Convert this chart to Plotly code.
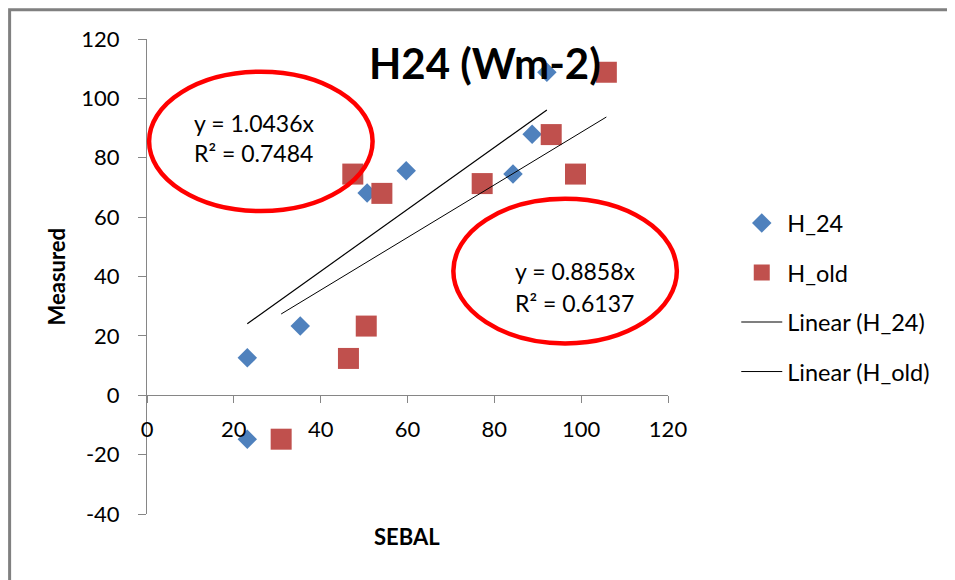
import plotly.graph_objects as go

# ---- data ----
h24_sebal = [23.1, 23.1, 35.3, 50.7, 59.7, 84.3, 88.7, 92.1]
h24_measured = [-14.8, 12.6, 23.3, 68.1, 75.6, 74.5, 87.9, 108.8]

hold_sebal = [30.9, 46.4, 50.5, 47.4, 54.1, 77.2, 93.1, 98.7, 105.8]
hold_measured = [-14.8, 12.4, 23.3, 74.5, 68.0, 71.3, 87.8, 74.5, 108.8]

slope_h24 = 1.0436
r2_h24 = 0.7484
slope_hold = 0.8858
r2_hold = 0.6137

x_ticks = [0, 20, 40, 60, 80, 100, 120]
x_tick_labels = ["0", "20", "40", "60", "80", "100", "120"]
y_ticks = [-40, -20, 0, 20, 40, 60, 80, 100, 120]
y_tick_labels = ["-40", "-20", "0", "20", "40", "60", "80", "100", "120"]

FONT = "Lato"
BLUE = "#4F81BD"
RED = "#C0504D"
AXIS = "#868686"

def trend_x(xs):
    return [min(xs), max(xs)]

fig = go.Figure()
fig.add_trace(go.Scatter(
    x=h24_sebal, y=h24_measured, mode="markers", name="H_24",
    marker=dict(symbol="diamond", size=15, color=BLUE),
    legendgroup="a"))
fig.add_trace(go.Scatter(
    x=hold_sebal, y=hold_measured, mode="markers", name="H_old",
    marker=dict(symbol="square", size=21, color=RED),
    legendgroup="b"))
tx = trend_x(h24_sebal)
fig.add_trace(go.Scatter(
    x=tx, y=[slope_h24 * v for v in tx], mode="lines", name="Linear (H_24)",
    line=dict(color="#000000", width=1.2), legendgroup="c"))
tx2 = trend_x(hold_sebal)
fig.add_trace(go.Scatter(
    x=tx2, y=[slope_hold * v for v in tx2], mode="lines", name="Linear (H_old)",
    line=dict(color="#000000", width=1), legendgroup="d"))

# the page body adds an 8px offset, so the figure is 8px smaller
fig.update_layout(
    width=947, height=572,
    margin=dict(l=139, r=286.5, t=31.3, b=65.7),
    paper_bgcolor="white", plot_bgcolor="white",
    font=dict(family=FONT, size=22, color="#000000"),
    showlegend=True,
    legend=dict(x=1.131, y=0.6587, xanchor="left", yanchor="top",
                font=dict(family=FONT, size=23.5, color="#000000"),
                itemwidth=41, tracegroupgap=16, bgcolor="rgba(0,0,0,0)"),
    xaxis=dict(range=[0, 120], tickvals=x_ticks, ticktext=x_tick_labels,
               showgrid=False, zeroline=False,
               showline=True, linecolor=AXIS, linewidth=1,
               ticks="outside", ticklen=7, tickcolor=AXIS,
               anchor="free", position=0.25, ticklabelstandoff=7,
               tickfont=dict(family=FONT, size=22, color="#000000")),
    yaxis=dict(range=[-40, 120], tickvals=y_ticks, ticktext=y_tick_labels,
               showgrid=False, zeroline=False,
               showline=True, linecolor=AXIS, linewidth=1,
               ticks="outside", ticklen=8, tickcolor=AXIS, ticklabelstandoff=14,
               tickfont=dict(family=FONT, size=22, color="#000000")),
)

shapes = [
    dict(type="rect", xref="paper", yref="paper", x0=-0.2637, x1=1.6, y0=-0.2, y1=1.0617,
         line=dict(color="#808080", width=3), fillcolor="rgba(0,0,0,0)", layer="above"),
    dict(type="circle", xref="paper", yref="paper", x0=0.004, x1=0.433, y0=0.6379, y1=0.9311,
         line=dict(color="#FF0000", width=4.5), layer="above"),
    dict(type="circle", xref="paper", yref="paper", x0=0.588, x1=1.017, y0=0.3592, y1=0.6638,
         line=dict(color="#FF0000", width=4.5), layer="above"),
]
fig.update_layout(shapes=shapes)

ann = [
    dict(text="<b>H24 (Wm-2)</b>", x=0.6486, y=0.9505, font=dict(size=42)),
    dict(text="<b>SEBAL</b>", x=0.4986, y=-0.0478, font=dict(size=22)),
    dict(text="<b>Measured</b>", x=-0.1732, y=0.4996, textangle=-90, font=dict(size=22)),
    dict(text=f"y = {slope_h24:.4f}x", x=0.0857, y=0.8238, xanchor="left", font=dict(size=23)),
    dict(text=f"R² = {r2_h24:.4f}", x=0.0857, y=0.7606, xanchor="left", font=dict(size=23)),
    dict(text=f"y = {slope_hold:.4f}x", x=0.7024, y=0.5107, xanchor="left", font=dict(size=23)),
    dict(text=f"R² = {r2_hold:.4f}", x=0.7024, y=0.4442, xanchor="left", font=dict(size=23)),
]
for a in ann:
    a.setdefault("xanchor", "center")
    a.setdefault("yanchor", "middle")
    a["font"] = dict(family=FONT, color="#000000", **a["font"])
    fig.add_annotation(xref="paper", yref="paper", showarrow=False, **a)

fig.write_html("out.html")
